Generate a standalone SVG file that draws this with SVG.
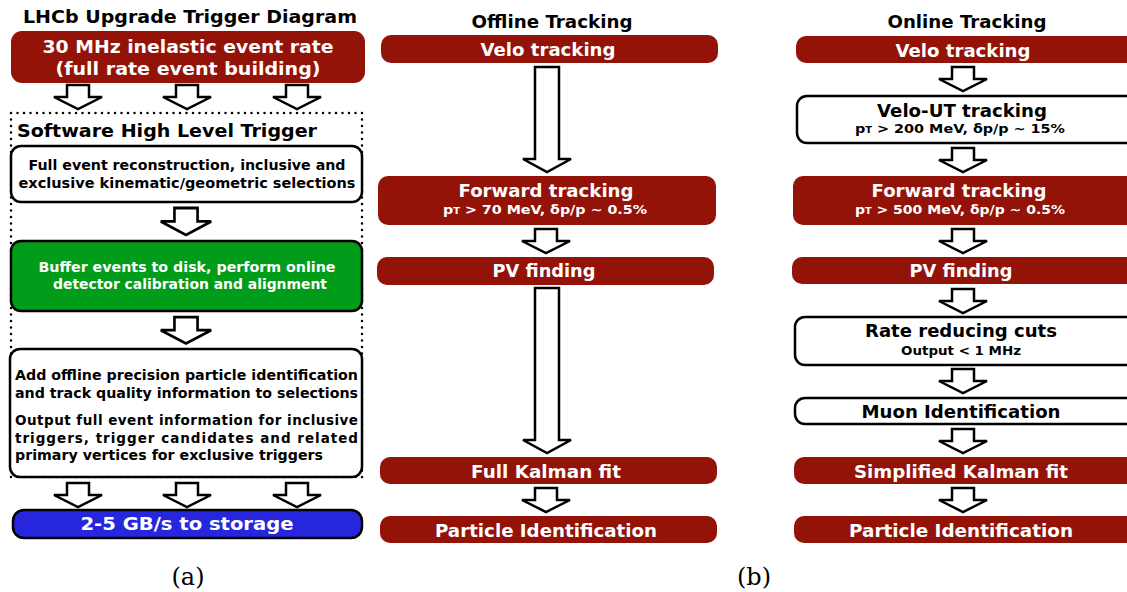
<svg xmlns="http://www.w3.org/2000/svg" xmlns:xlink="http://www.w3.org/1999/xlink" width="1127" height="592" viewBox="0 0 1127 592">
<style>
.t{font-family:"DejaVu Sans","Verdana",sans-serif;font-weight:bold;text-anchor:middle}
.w{fill:#ffffff}
.k{fill:#000000}
.red{fill:#931309;stroke:none}
.wb{fill:#ffffff;stroke:#000;stroke-width:2.5}
.arr{fill:#ffffff;stroke:#000;stroke-width:2.5;stroke-linejoin:miter}
.cap{font-family:"DejaVu Serif","Liberation Serif",serif;font-size:24px;text-anchor:middle;fill:#000}
</style>
<defs>
<path id="sa" d="M-11,0 H11 V12 H24 L0,24 L-24,12 H-11 Z"/>
</defs>

<g id="titles">
<text class="t k" x="190" y="23" font-size="18" textLength="334" lengthAdjust="spacingAndGlyphs">LHCb Upgrade Trigger Diagram</text>
<text class="t k" x="552" y="28" font-size="17" textLength="161" lengthAdjust="spacingAndGlyphs">Offline Tracking</text>
<text class="t k" x="967" y="28" font-size="17" textLength="159" lengthAdjust="spacingAndGlyphs">Online Tracking</text>
<text class="cap" x="188" y="585">(a)</text>
<text class="cap" x="754" y="585">(b)</text>
</g>

<g id="hlt-frame">
<rect x="11" y="113" width="351" height="364" fill="none" stroke="#000" stroke-width="2.5" stroke-dasharray="0 6.5" stroke-linecap="round"/>
<text class="t k" x="17" y="137" font-size="17" style="text-anchor:start" textLength="300" lengthAdjust="spacingAndGlyphs">Software High Level Trigger</text>
</g>

<g id="connectors">
<use xlink:href="#sa" class="arr" transform="translate(78,85)"/>
<use xlink:href="#sa" class="arr" transform="translate(187,85)"/>
<use xlink:href="#sa" class="arr" transform="translate(297,85)"/>
<use xlink:href="#sa" class="arr" transform="translate(186,208) scale(1.05,1.12)"/>
<use xlink:href="#sa" class="arr" transform="translate(186,317) scale(1.05,1.1)"/>
<use xlink:href="#sa" class="arr" transform="translate(78,483)"/>
<use xlink:href="#sa" class="arr" transform="translate(187,483)"/>
<use xlink:href="#sa" class="arr" transform="translate(297,483)"/>
<path class="arr" d="M535,67 H559 V159 H571 L547,172 L523,159 H535 Z"/>
<use xlink:href="#sa" class="arr" transform="translate(546,229)"/>
<path class="arr" d="M535,288 H559 V440 H571 L547,453 L523,440 H535 Z"/>
<use xlink:href="#sa" class="arr" transform="translate(546,488)"/>
<use xlink:href="#sa" class="arr" transform="translate(963,67)"/>
<use xlink:href="#sa" class="arr" transform="translate(963,148)"/>
<use xlink:href="#sa" class="arr" transform="translate(963,229)"/>
<use xlink:href="#sa" class="arr" transform="translate(963,289)"/>
<use xlink:href="#sa" class="arr" transform="translate(963,369)"/>
<use xlink:href="#sa" class="arr" transform="translate(963,429)"/>
<use xlink:href="#sa" class="arr" transform="translate(963,488)"/>
</g>

<g id="n-rate">
<rect class="red" x="11" y="31" width="354" height="52" rx="11"/>
<text class="t w" x="188" y="53" font-size="18" textLength="291" lengthAdjust="spacingAndGlyphs">30 MHz inelastic event rate</text>
<text class="t w" x="188" y="75" font-size="18" textLength="265" lengthAdjust="spacingAndGlyphs">(full rate event building)</text>
</g>

<g id="n-reco">
<rect class="wb" x="11" y="146" width="351" height="56" rx="10"/>
<text class="t k" x="187" y="170" font-size="13.5" textLength="317" lengthAdjust="spacingAndGlyphs">Full event reconstruction, inclusive and</text>
<text class="t k" x="187" y="188" font-size="13.5" textLength="337" lengthAdjust="spacingAndGlyphs">exclusive kinematic/geometric selections</text>
</g>

<g id="n-buffer">
<rect class="wb" x="11" y="241" width="351" height="70" rx="10" style="fill:#009c1a"/>
<text class="t w" x="187" y="272" font-size="13.5" textLength="297" lengthAdjust="spacingAndGlyphs">Buffer events to disk, perform online</text>
<text class="t w" x="190" y="289" font-size="13.5" textLength="274" lengthAdjust="spacingAndGlyphs">detector calibration and alignment</text>
</g>

<g id="n-output">
<rect class="wb" x="10" y="349" width="352" height="128" rx="10"/>
<g class="t k" font-size="13.5" style="text-anchor:start">
<text x="15" y="380" textLength="343" lengthAdjust="spacingAndGlyphs">Add offline precision particle identification</text>
<text x="15" y="398" textLength="343" lengthAdjust="spacingAndGlyphs">and track quality information to selections</text>
<text x="15" y="425" textLength="343" lengthAdjust="spacing">Output full event information for inclusive</text>
<text x="15" y="443" textLength="343" lengthAdjust="spacing">triggers, trigger candidates and related</text>
<text x="15" y="460" textLength="308" lengthAdjust="spacingAndGlyphs">primary vertices for exclusive triggers</text>
</g>
</g>

<g id="n-storage">
<rect class="wb" x="13" y="510" width="349" height="28" rx="11" style="fill:#2626dc"/>
<text class="t w" x="187" y="530" font-size="18" textLength="213" lengthAdjust="spacingAndGlyphs">2-5 GB/s to storage</text>
</g>

<g id="off-velo">
<rect class="red" x="381" y="35" width="337" height="28" rx="10"/>
<text class="t w" x="548" y="56" font-size="18" textLength="135" lengthAdjust="spacingAndGlyphs">Velo tracking</text>
</g>
<g id="off-forward">
<rect class="red" x="378" y="176" width="338" height="49" rx="10"/>
<text class="t w" x="546" y="197" font-size="18" textLength="175" lengthAdjust="spacingAndGlyphs">Forward tracking</text>
<text class="t w" x="545" y="214" font-size="13" textLength="204" lengthAdjust="spacingAndGlyphs">p<tspan font-size="9">T</tspan> &gt; 70 MeV, δp/p ~ 0.5%</text>
</g>
<g id="off-pv">
<rect class="red" x="377" y="257" width="337" height="28" rx="10"/>
<text class="t w" x="544" y="277" font-size="18" textLength="103" lengthAdjust="spacingAndGlyphs">PV finding</text>
</g>
<g id="off-kalman">
<rect class="red" x="380" y="457" width="337" height="27" rx="10"/>
<text class="t w" x="546" y="478" font-size="18" textLength="150" lengthAdjust="spacingAndGlyphs">Full Kalman fit</text>
</g>
<g id="off-pid">
<rect class="red" x="380" y="516" width="337" height="27" rx="10"/>
<text class="t w" x="546" y="537" font-size="18" textLength="222" lengthAdjust="spacingAndGlyphs">Particle Identification</text>
</g>

<g id="on-velo">
<rect class="red" x="796" y="36" width="340" height="27" rx="10"/>
<text class="t w" x="963" y="57" font-size="18" textLength="135" lengthAdjust="spacingAndGlyphs">Velo tracking</text>
</g>
<g id="on-veloUT">
<rect class="wb" x="797" y="96" width="340" height="47" rx="10"/>
<text class="t k" x="962" y="117" font-size="18" textLength="170" lengthAdjust="spacingAndGlyphs">Velo-UT tracking</text>
<text class="t k" x="960" y="133" font-size="13" textLength="210" lengthAdjust="spacingAndGlyphs">p<tspan font-size="9">T</tspan> &gt; 200 MeV, δp/p ~ 15%</text>
</g>
<g id="on-forward">
<rect class="red" x="793" y="176" width="343" height="49" rx="10"/>
<text class="t w" x="959" y="197" font-size="18" textLength="175" lengthAdjust="spacingAndGlyphs">Forward tracking</text>
<text class="t w" x="960" y="214" font-size="13" textLength="210" lengthAdjust="spacingAndGlyphs">p<tspan font-size="9">T</tspan> &gt; 500 MeV, δp/p ~ 0.5%</text>
</g>
<g id="on-pv">
<rect class="red" x="792" y="257" width="344" height="27" rx="10"/>
<text class="t w" x="961" y="277" font-size="18" textLength="103" lengthAdjust="spacingAndGlyphs">PV finding</text>
</g>
<g id="on-cuts">
<rect class="wb" x="795" y="317" width="342" height="48" rx="10"/>
<text class="t k" x="961" y="337" font-size="18" textLength="192" lengthAdjust="spacingAndGlyphs">Rate reducing cuts</text>
<text class="t k" x="961" y="355" font-size="12" textLength="120" lengthAdjust="spacingAndGlyphs">Output &lt; 1 MHz</text>
</g>
<g id="on-muon">
<rect class="wb" x="795" y="398" width="342" height="26" rx="10"/>
<text class="t k" x="961" y="418" font-size="18" textLength="199" lengthAdjust="spacingAndGlyphs">Muon Identification</text>
</g>
<g id="on-kalman">
<rect class="red" x="794" y="457" width="342" height="27" rx="10"/>
<text class="t w" x="961" y="478" font-size="18" textLength="214" lengthAdjust="spacingAndGlyphs">Simplified Kalman fit</text>
</g>
<g id="on-pid">
<rect class="red" x="794" y="516" width="342" height="27" rx="10"/>
<text class="t w" x="961" y="537" font-size="18" textLength="224" lengthAdjust="spacingAndGlyphs">Particle Identification</text>
</g>
</svg>
